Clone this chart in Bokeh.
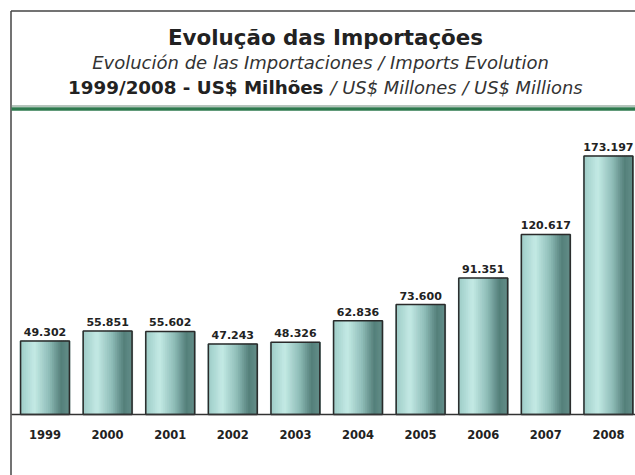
import numpy as np
from bokeh.plotting import figure
from bokeh.models import ColumnDataSource, Range1d
from bokeh.core.properties import value
from bokeh.embed import file_html
from bokeh.resources import INLINE

# ---- data ----
years = ["1999", "2000", "2001", "2002", "2003", "2004", "2005", "2006", "2007", "2008"]
imports = [49.302, 55.851, 55.602, 47.243, 48.326, 62.836, 73.600, 91.351, 120.617, 173.197]
value_labels = ["49.302", "55.851", "55.602", "47.243", "48.326", "62.836", "73.600", "91.351", "120.617", "173.197"]

title_main = "Evolução das Importações"
title_sub = "Evolución de las Importaciones / Imports Evolution"
title_line3_bold = "1999/2008 - US$ Milhões"
title_line3_ital = "/ US$ Millones / US$ Millions"

# ---- geometry ----
W, H = 635, 475
PX_PER_CAT = 62.6
PX_PER_UNIT = 1.493
X0 = -44.5 / PX_PER_CAT
Y0 = -61 / PX_PER_UNIT
x_range = Range1d(X0, X0 + W / PX_PER_CAT)
y_range = Range1d(Y0, Y0 + H / PX_PER_UNIT)

def px2x(px):
    return X0 + px / PX_PER_CAT

def py2y(py):
    return Y0 + (H - py) / PX_PER_UNIT

p = figure(width=W, height=H, x_range=x_range, y_range=y_range,
           output_backend="svg", toolbar_location=None, min_border=0,
           background_fill_color="white", border_fill_color="white")
p.outline_line_color = None
p.xaxis.visible = False
p.yaxis.visible = False
p.grid.visible = False

idx = np.arange(len(years))
BAR_W = 0.78

# gradient strips
stops = [(0.0, (0x9c, 0xcb, 0xc6)), (0.3, (0xc4, 0xea, 0xe5)), (0.6, (0x8f, 0xbd, 0xb8)),
         (0.85, (0x55, 0x80, 0x7b)), (1.0, (0x62, 0x8d, 0x88))]

def col_at(t):
    for (t0, c0), (t1, c1) in zip(stops[:-1], stops[1:]):
        if t0 <= t <= t1:
            f = (t - t0) / (t1 - t0)
            c = [int(round(a + (b - a) * f)) for a, b in zip(c0, c1)]
            return "#%02x%02x%02x" % tuple(c)
    return "#%02x%02x%02x" % stops[-1][1]

N = 24
sx, stop, scol = [], [], []
for i, v in zip(idx, imports):
    for k in range(N):
        t = (k + 0.5) / N
        sx.append(i - BAR_W / 2 + BAR_W * t)
        stop.append(v)
        scol.append(col_at(t))
strip_src = ColumnDataSource(dict(x=sx, top=stop, color=scol))
p.vbar(x="x", width=BAR_W / N * 1.6, top="top", bottom=0, fill_color="color",
       line_color="color", line_width=0.5, source=strip_src)

src = ColumnDataSource(dict(x=idx, top=imports, label=value_labels, year=years))
p.vbar(x="x", width=BAR_W, top="top", bottom=0, fill_color=None,
       line_color="#2a2a2a", line_width=1.5, source=src)

p.text(x="x", y="top", text="label", source=src, text_align="center",
       text_baseline="alphabetic", y_offset=-9, text_font=value("DejaVu Sans"),
       text_font_style="bold", text_font_size="11px", text_color="#222222")
p.text(x="x", y=0, text="year", source=src, text_align="center",
       text_baseline="alphabetic", y_offset=20, text_font=value("DejaVu Sans"),
       text_font_style="bold", text_font_size="11.5px", text_color="#222222")

# baseline
p.segment(x0=px2x(11), x1=x_range.end, y0=0, y1=0, line_color="#333333", line_width=1.3)

# title box decorations
p.segment(x0=px2x(10.5), x1=x_range.end, y0=py2y(10.5), y1=py2y(10.5), line_color="#444444", line_width=1.5)
p.segment(x0=px2x(10.5), x1=px2x(10.5), y0=py2y(10.5), y1=y_range.start, line_color="#444444", line_width=1.5)
p.segment(x0=px2x(11), x1=x_range.end, y0=py2y(105.5), y1=py2y(105.5), line_color="#6a8a78", line_width=1)
p.segment(x0=px2x(11), x1=x_range.end, y0=py2y(108.5), y1=py2y(108.5), line_color="#2e7a4e", line_width=3.5)

p.text(x=[px2x(325)], y=[py2y(37)], text=[title_main], text_align="center", text_baseline="alphabetic",
       text_font=value("DejaVu Sans"), text_font_style="bold", text_font_size="21.4px", text_color="#222222")
p.text(x=[px2x(320)], y=[py2y(61.5)], text=[title_sub], text_align="center", text_baseline="alphabetic",
       text_font=value("DejaVu Sans"), text_font_style="italic", text_font_size="18px", text_color="#333333")
p.text(x=[px2x(323)], y=[py2y(86.5)], text=[title_line3_bold], text_align="right", text_baseline="alphabetic",
       text_font=value("DejaVu Sans"), text_font_style="bold", text_font_size="18.3px", text_color="#222222")
p.text(x=[px2x(330)], y=[py2y(86.5)], text=[title_line3_ital], text_align="left", text_baseline="alphabetic",
       text_font=value("DejaVu Sans"), text_font_style="italic", text_font_size="17.9px", text_color="#333333")

open("out.html", "w").write(file_html(p, INLINE))
